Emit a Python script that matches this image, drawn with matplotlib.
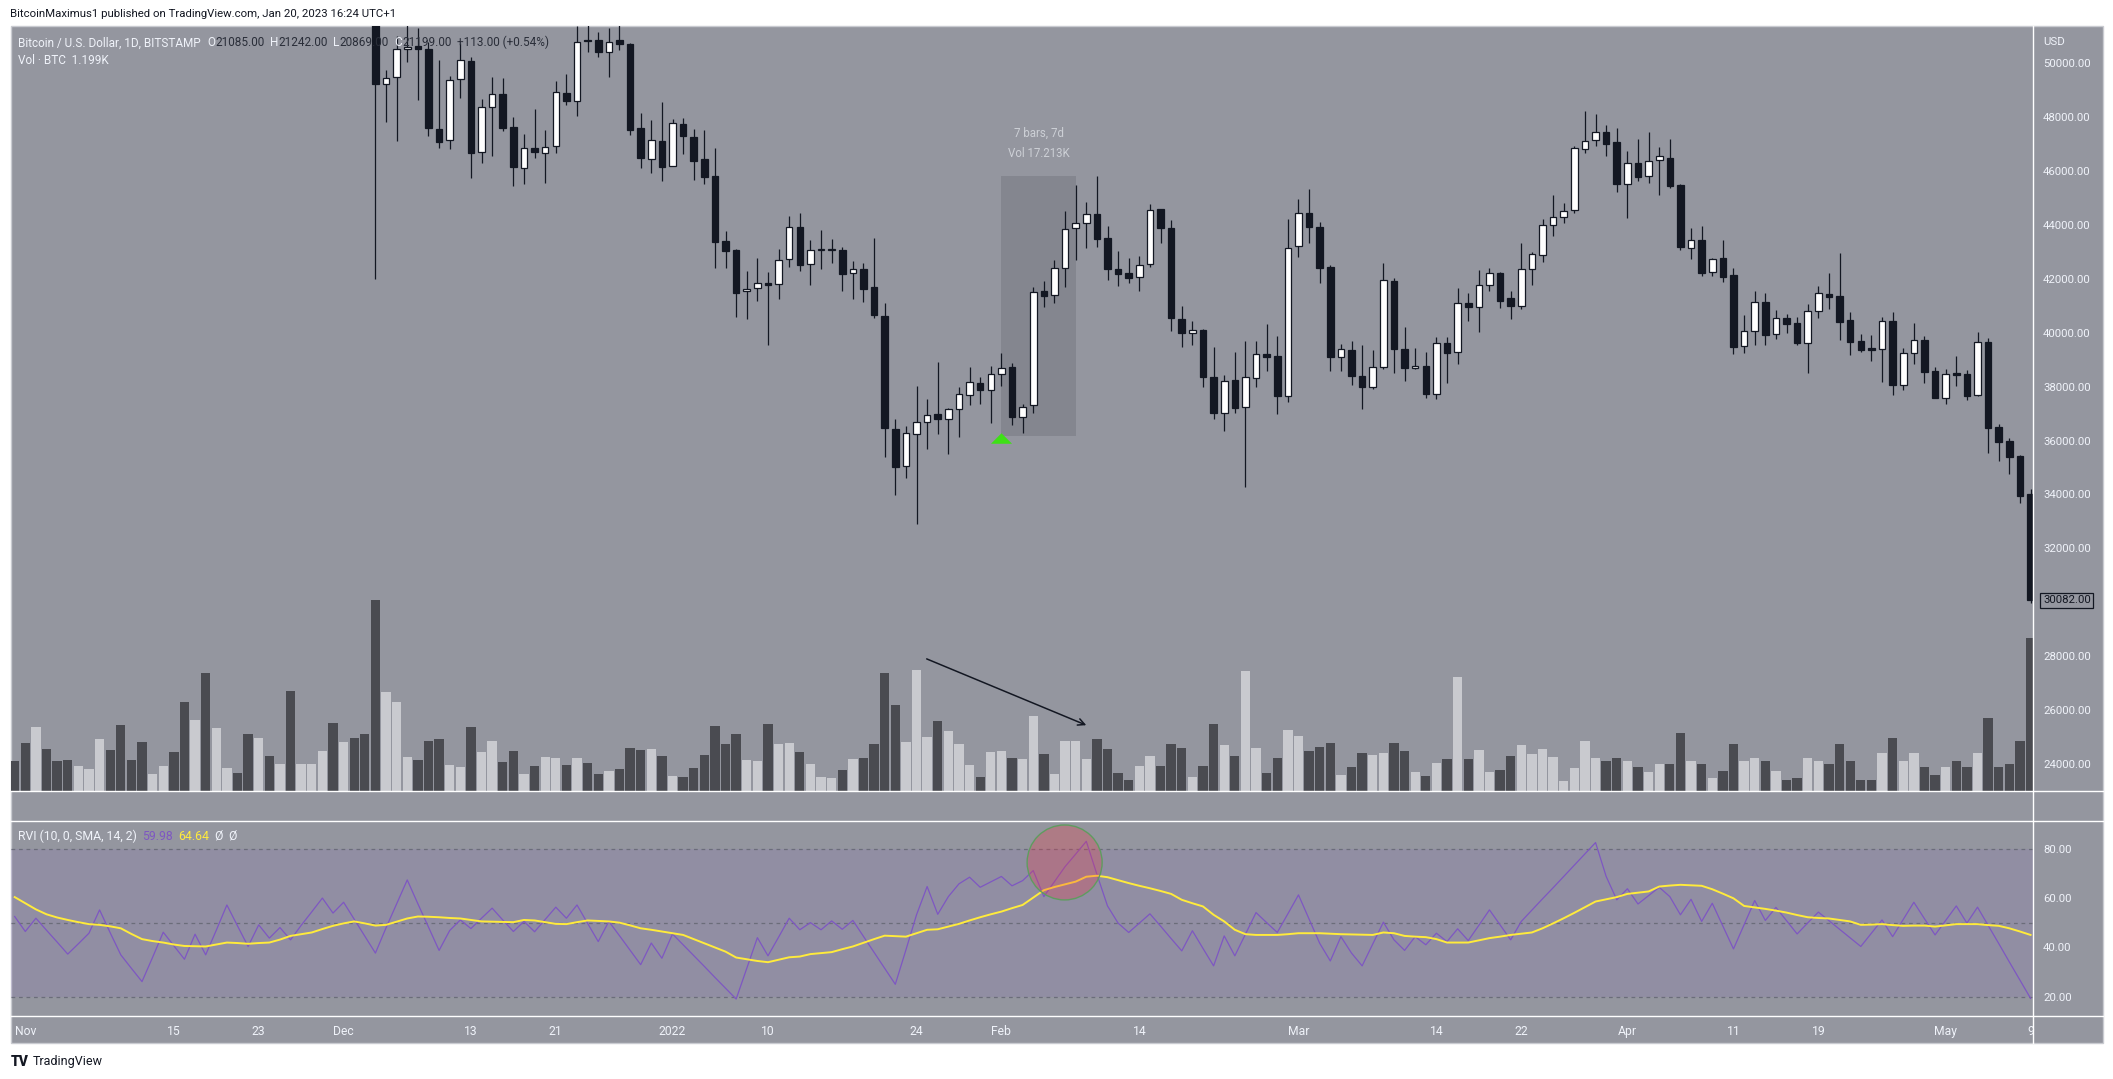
"""BTC/USD daily candles with volume overlay and RVI pane (TradingView style)."""
import numpy as np
import pandas as pd
import matplotlib
matplotlib.use('Agg')
import matplotlib.pyplot as plt
import matplotlib.dates as mdates
from matplotlib.patches import Rectangle, Ellipse
from matplotlib.lines import Line2D

plt.rcParams['font.family'] = ['Roboto', 'DejaVu Sans']

# ── Data ─────────────────────────────────────────────────────────────────────
vol_start = '2021-10-31'
candle_start = '2021-12-04'
last_day = '2022-05-09'

c_open = [
    # Dec 4-31
    53600, 49220, 49480, 50520, 50640, 50520, 47560, 47140, 49400, 50070, 46700, 48370, 48850, 47620,
    46100, 46850, 46670, 46930, 48890, 48600, 50830, 50850, 50410, 50850, 50700, 47590, 46440, 47120,
    # Jan
    46200, 47750, 47270, 46450, 45820, 43410, 43070, 41540, 41650, 41850, 41800, 42730, 43930, 42540, 43060, 43065,
    43070, 42210, 42370, 41690, 40620, 36420, 35050, 36230, 36680, 36990, 36790, 37160, 37680, 38130, 37870,
    # Feb
    38460, 38720, 36890, 37320, 41560, 41400, 42390, 43880, 44060, 44400, 43520, 42360, 42210, 42060,
    42540, 44580, 43880, 40500, 39990, 40100, 38350, 37010, 38240, 37230, 38310, 39200, 39140, 37670,
    # Mar
    43220, 44430, 43910, 42430, 39110, 39350, 38380, 37980, 38720, 41910, 39390, 38680, 38760, 37720, 39630, 39280,
    41090, 40940, 41760, 42210, 41280, 41010, 42360, 42870, 43990, 44310, 44540, 46830, 47140, 47440, 47070,
    # Apr
    45510, 46290, 45810, 46400, 46470, 45470, 43130, 43430, 42240, 42780, 42150, 39500, 40050, 41130, 39940,
    40540, 40360, 39610, 40800, 41440, 41370, 40480, 39700, 39410, 39410, 40430, 38060, 39240, 39730, 38580,
    # May 1-9
    37590, 38500, 38460, 37690, 39650, 36490, 35990, 35430, 34020,
]
c_high = [
    53900, 49750, 51000, 51900, 51300, 50800, 50120, 49530, 50770, 50220, 48660, 49480, 49440, 48000,
    47360, 48290, 47530, 49340, 49600, 51370, 51800, 51150, 51300, 52000, 50760, 48140, 47900, 48580,
    47930, 47980, 47560, 47530, 46850, 43780, 43100, 42290, 42780, 42260, 43110, 44330, 44460, 43440, 43810, 43480,
    43180, 42660, 42590, 43520, 41110, 36800, 36540, 38030, 37540, 38920, 37200, 37980, 38740, 38370, 38770,
    39240, 38870, 37360, 41710, 41930, 42700, 44520, 45480, 44840, 45820, 43960, 43040, 42780, 42850,
    44770, 44580, 44190, 40990, 40440, 40130, 39470, 38420, 39290, 39700, 39700, 40330, 39880, 44220,
    44970, 45340, 44100, 42520, 39570, 39700, 39540, 39350, 42580, 42020, 40200, 39420, 39280, 39860, 39860, 41650,
    41460, 42330, 42390, 42270, 41560, 43320, 42990, 44220, 45100, 44800, 46930, 48230, 48120, 47710, 47590,
    46750, 47180, 47440, 46890, 47180, 45510, 43880, 43960, 42790, 43440, 42390, 40660, 41550, 41480, 40830,
    40700, 40600, 41070, 41740, 42210, 42950, 40760, 39940, 39920, 40570, 40760, 39450, 40350, 39890, 38740,
    38660, 39140, 38620, 40030, 39790, 36620, 36080, 35470, 34200,
]
c_low = [
    42000, 47830, 47130, 50060, 48640, 47320, 46870, 46810, 48700, 45760, 46310, 46570, 47490, 45460,
    45510, 46470, 45570, 46680, 48450, 48050, 50430, 50220, 49480, 50490, 47340, 46100, 45940, 45650,
    46200, 46630, 45670, 45520, 42420, 42420, 40600, 40510, 41190, 39560, 41250, 42450, 42310, 41770, 42380, 42600,
    41560, 41250, 41160, 40560, 35400, 33990, 34620, 32920, 35700, 36260, 35520, 36150, 37330, 37370, 36640,
    38040, 36580, 36270, 37040, 40970, 41120, 41690, 42700, 43160, 43200, 41960, 41750, 41860, 41560,
    42450, 43320, 40080, 39460, 39550, 37980, 36810, 36370, 37040, 34290, 38000, 38590, 37000, 37440,
    42830, 43340, 41840, 38590, 38590, 38060, 37160, 37900, 38670, 38520, 38220, 38640, 37590, 37560, 38150, 38840,
    40450, 40040, 41560, 40930, 40520, 40900, 41770, 42630, 43600, 44090, 44460, 46680, 46940, 46570, 45240,
    44250, 45650, 45570, 45130, 45360, 43070, 42740, 42110, 42120, 41890, 39210, 39260, 39550, 39550, 39770,
    40000, 39550, 38520, 40560, 40900, 39730, 39180, 39290, 38970, 38190, 37690, 37880, 38840, 38150, 37590,
    37360, 38040, 37510, 37650, 35550, 35260, 34760, 33700, 29990,
]
c_close = [
    49220, 49440, 50520, 50590, 50520, 47590, 47090, 49370, 50110, 46680, 48370, 48850, 47610, 46170,
    46850, 46700, 46880, 48920, 48590, 50800, 50810, 50410, 50780, 50720, 47530, 46470, 47140, 46160,
    47770, 47320, 46370, 45790, 43380, 43050, 41490, 41640, 41850, 41790, 42690, 43910, 42530, 43060, 43070, 43075,
    42190, 42360, 41640, 40660, 36460, 35030, 36270, 36680, 36940, 36790, 37160, 37720, 38160, 37890, 38460,
    38680, 36890, 37260, 41530, 41380, 42390, 43840, 44060, 44400, 43490, 42380, 42190, 42050, 42500,
    44540, 43880, 40540, 39980, 40100, 38350, 37040, 38220, 37220, 38350, 39200, 39110, 37670, 43130,
    44430, 43910, 42420, 39110, 39390, 38410, 37980, 38720, 41950, 39410, 38680, 38780, 37740, 39630, 39260, 41090,
    40940, 41760, 42210, 41190, 41010, 42360, 42910, 43990, 44280, 44510, 46850, 47130, 47440, 47020, 45510,
    46290, 45790, 46360, 46570, 45460, 43170, 43430, 42230, 42730, 42080, 39490, 40050, 41130, 39920, 40540,
    40340, 39630, 40800, 41460, 41340, 40410, 39670, 39360, 39380, 40430, 38060, 39240, 39720, 38560, 37590,
    38460, 38450, 37650, 39650, 36480, 35960, 35400, 33960, 30082,
]

# volume bar heights (read in chart units, 30 units = 1K BTC), Oct 31 - May 9
volume = [
    90,
    144, 192, 126, 90, 93, 75, 66, 156, 123, 198, 93, 147, 51, 75, 117, 267, 213, 354, 189, 69, 54, 171, 159,
    105, 81, 300, 81, 81, 120, 204,
    147, 159, 171, 573, 297, 267, 102, 93, 150, 156, 78, 72, 192, 117, 150, 87, 120, 51, 75, 102, 99, 78, 99,
    84, 51, 60, 66, 129, 123, 126, 105,
    45, 42, 69, 108, 195, 141, 171, 93, 90, 201, 141, 144, 117, 81, 42, 39, 63, 96, 99, 141, 354, 258, 147,
    363, 162, 210, 180, 141, 78, 42, 117,
    120, 99, 96, 225, 111, 51, 150, 150, 96, 156, 126, 54, 33, 75, 105, 75, 141, 129, 42, 75, 201, 138, 105,
    360, 129, 54, 99, 183,
    165, 120, 132, 144, 48, 72, 114, 108, 114, 144, 120, 57, 45, 84, 96, 342, 96, 123, 57, 63, 105, 138, 111,
    126, 102, 30, 70, 150, 100, 90, 100,
    90, 72, 57, 80, 80, 174, 90, 80, 40, 60, 140, 90, 100, 90, 60, 32, 40, 100, 90, 80, 140, 90, 32, 32, 113,
    160, 90, 113, 72, 48,
    72, 90, 72, 113, 220, 72, 80, 150, 460,
]
# bar direction before the first visible candle (Oct 31 - Dec 3): D = down, L = up
vol_dir_early = "DDLDDDLLLDDDDLLDDLDLLDDLDLDLLLDLDD"

rvi = [
    52.6,
    46.5, 51.9, 47.0, 42.2, 37.3, 41.5, 45.8, 55.3, 46.0, 37.0, 31.5, 26.1, 36.0, 46.2, 40.7,
    35.2, 45.4, 37.0, 47.0, 57.3, 48.8, 40.4, 49.2, 43.8, 48.1, 43.1, 49.0, 54.5, 60.1, 54.0,
    58.4, 51.5, 44.6, 37.7, 48.0, 57.8, 67.5, 57.8, 48.3, 38.8, 46.9, 51.2, 47.7, 51.9, 56.0,
    51.2, 46.5, 50.6, 46.4, 51.4, 56.4, 51.9, 57.3, 49.8, 42.4, 50.6, 44.8, 38.9, 33.0, 41.8, 35.6,
    45.5, 41.1, 36.7, 32.3, 27.8, 23.4, 19.0, 31.5, 44.0, 36.6, 44.2, 51.9, 47.2, 50.1, 47.2,
    50.8, 47.4, 51.0, 44.5, 38.0, 31.5, 25.0, 39.0, 53.3, 64.8, 53.5, 60.7, 65.9, 68.6, 64.5, 66.7,
    68.9, 65.1, 67.2, 71.3, 60.7, 66.8, 72.9, 78.0, 83.2, 69.8, 56.9, 49.9, 46.1, 49.9,
    53.7, 48.7, 43.6, 38.6, 46.8, 39.6, 32.5, 44.7, 36.6, 45.4, 54.2, 50.1, 46.1, 53.7,
    61.4, 51.5, 41.7, 34.5, 44.4, 37.7, 32.5, 41.4, 50.3, 43.1, 38.8, 44.4, 41.1, 45.8, 42.4,
    47.6, 42.8, 49.0, 55.3, 49.2, 43.1, 50.6, 55.2, 59.8, 64.3, 68.9, 73.5, 78.1, 82.7, 68.9, 59.4,
    63.9, 57.7, 61.1, 64.5, 60.7, 53.3, 59.6, 50.6, 58.0, 48.7, 39.4, 49.2, 59.1, 51.0, 56.3,
    50.9, 45.5, 50.0, 54.4, 50.9, 47.4, 43.9, 40.4, 45.8, 51.2, 44.4, 51.4, 58.4, 51.7, 45.1,
    51.0, 56.9, 49.9, 56.4, 49.0, 41.6, 34.1, 26.7, 19.3,
]
rvi_sma = [
    60.5,
    58.0, 55.5, 53.5, 52.2, 51.2, 50.3, 49.5, 49.2, 48.6, 47.8, 45.5, 43.4, 42.6, 42.0, 41.2,
    40.6, 40.5, 40.4, 41.2, 42.0, 41.8, 41.5, 41.8, 42.0, 43.2, 44.7, 45.4, 46.1, 47.5, 48.8,
    49.8, 50.6, 49.8, 48.9, 49.2, 50.5, 51.8, 52.6, 52.5, 52.3, 52.0, 51.8, 51.2, 50.6, 50.5,
    50.4, 50.3, 51.2, 51.0, 50.3, 49.6, 49.5, 50.3, 51.0, 50.8, 50.6, 50.1, 49.0, 47.8, 47.2, 46.5,
    45.8, 45.1, 43.4, 41.7, 40.0, 38.3, 35.9, 35.2, 34.5, 34.0, 35.0, 36.0, 36.3, 37.3, 37.7,
    38.1, 39.3, 40.4, 41.9, 43.4, 44.8, 44.6, 44.4, 45.8, 47.2, 47.4, 48.5, 49.6, 51.0, 52.3, 53.5,
    54.6, 56.0, 57.3, 60.3, 63.3, 64.6, 65.7, 66.8, 68.8, 69.2, 68.6, 67.4, 66.2, 65.1,
    64.1, 63.0, 61.8, 59.4, 58.0, 56.7, 53.3, 50.6, 47.2, 45.4, 45.1, 45.1, 45.1, 45.4,
    45.8, 45.8, 45.8, 45.6, 45.4, 45.3, 45.2, 45.1, 46.1, 45.8, 44.7, 44.4, 44.2, 43.4, 42.0,
    42.0, 42.0, 42.9, 43.8, 44.4, 45.1, 45.6, 46.1, 47.8, 49.8, 51.9, 54.1, 56.4, 58.7, 59.6, 60.5,
    61.8, 62.3, 62.8, 64.8, 65.2, 65.5, 65.3, 65.1, 63.7, 61.9, 60.0, 56.9, 56.3, 55.7, 55.0,
    54.2, 53.2, 52.3, 52.0, 51.8, 51.2, 50.6, 49.2, 49.3, 49.5, 49.1, 48.8, 48.9, 48.9, 48.5,
    49.0, 49.5, 49.5, 49.5, 49.1, 48.8, 47.8, 46.5, 45.1,
]

price_ticks = [24000, 26000, 28000, 32000, 34000, 36000, 38000, 40000, 42000, 44000, 46000, 48000, 50000]
last_price = 30082
rvi_ticks = [20, 40, 60, 80]
rvi_levels = [20, 50, 80]
date_ticks = ['2021-11-01', '2021-11-15', '2021-11-23', '2021-12-01', '2021-12-13', '2021-12-21',
              '2022-01-01', '2022-01-10', '2022-01-24', '2022-02-01', '2022-02-14', '2022-03-01',
              '2022-03-14', '2022-03-22', '2022-04-01', '2022-04-11', '2022-04-19', '2022-05-01', '2022-05-09']
date_labels = ['Nov', '15', '23', 'Dec', '13', '21', '2022', '10', '24', 'Feb', '14', 'Mar',
               '14', '22', 'Apr', '11', '19', 'May', '9']

# drawings on the chart
range_start, range_end = '2022-02-01', '2022-02-08'
range_low, range_high = 36170, 45820
signal_date, signal_price = '2022-02-01', 36080
arrow_from = ('2022-01-24 23:00', 27900)
arrow_to = ('2022-02-09', 25440)
circle_center = ('2022-02-06 23:00', 74.6)

# ── Checks ───────────────────────────────────────────────────────────────────
vdates = pd.date_range(vol_start, last_day)
cdates = pd.date_range(candle_start, last_day)
assert len(c_open) == len(c_high) == len(c_low) == len(c_close) == len(cdates)
assert len(volume) == len(rvi) == len(rvi_sma) == len(vdates)
assert len(vol_dir_early) == len(vdates) - len(cdates)

xv = mdates.date2num(vdates)
xc = mdates.date2num(cdates)
o, h, l, c = map(np.array, (c_open, c_high, c_low, c_close))
up = c >= o
vol_dir = list(vol_dir_early) + ['L' if u else 'D' for u in up]
vol_k = np.array(volume) / 30.0

# ── Layout (pixel helpers) ───────────────────────────────────────────────────
W, H = 2113, 1079
def fx(px): return px / W
def fy(py): return 1 - py / H

BG = '#94969f'
DARK = '#131722'
LIGHT_TXT = '#f0f3fa'
L_PX, R_PX, FRAME_R = 10.5, 2033, 2103
TOP, VOL_BASE, RVI_TOP, RVI_BOT, FRAME_B = 25.6, 791, 820.7, 1016, 1043

fig = plt.figure(figsize=(W / 100, H / 100), dpi=100)
fig.patch.set_facecolor('white')
fig.add_artist(Rectangle((fx(L_PX), fy(FRAME_B)), fx(FRAME_R) - fx(L_PX), fy(TOP) - fy(FRAME_B),
                         transform=fig.transFigure, facecolor=BG, edgecolor='#c9cbd1', lw=1, zorder=-5))

x0 = mdates.date2num(pd.Timestamp('2021-11-01'))
xlim = (x0 - 1.395, x0 + 189.23)
rect_price = [fx(L_PX), fy(VOL_BASE), fx(R_PX) - fx(L_PX), fy(TOP) - fy(VOL_BASE)]

axv = fig.add_axes(rect_price)
ax = fig.add_axes(rect_price)
ar = fig.add_axes([fx(L_PX), fy(RVI_BOT), fx(R_PX) - fx(L_PX), fy(RVI_TOP) - fy(RVI_BOT)])
for a in (axv, ax, ar):
    a.set_facecolor('none')
    a.set_xlim(*xlim)
    for s in a.spines.values():
        s.set_visible(False)

# ── Volume overlay ───────────────────────────────────────────────────────────
axv.bar(xv, vol_k, width=0.88, color=['#c9cacf' if d == 'L' else '#4a4b51' for d in vol_dir], lw=0)
axv.set_ylim(0, (VOL_BASE - TOP) / 10.0)
axv.set_xticks([]); axv.set_yticks([])

# ── Candles ──────────────────────────────────────────────────────────────────
ax.set_ylim(22998, 51399)
d0 = mdates.date2num(pd.Timestamp(range_start))
d1 = mdates.date2num(pd.Timestamp(range_end))
ax.add_patch(Rectangle((d0, range_low), d1 - d0, range_high - range_low,
                       facecolor='#84868f', edgecolor='none', zorder=1))
ax.vlines(xc, l, h, color=DARK, lw=0.9, zorder=2)
body_lo = np.minimum(o, c)
body_h = np.maximum(np.abs(c - o), 45)
ax.bar(xc, body_h, bottom=body_lo, width=0.62, color=np.where(up, 'white', DARK),
       edgecolor=DARK, lw=0.9, zorder=3)

ax.annotate('7 bars, 7d', xy=((d0 + d1) / 2, range_high), xytext=(0, 31), textcoords='offset points',
            ha='center', va='center', fontsize=8.3, color='#cdd0d6')
ax.annotate('Vol 17.213K', xy=((d0 + d1) / 2, range_high), xytext=(0, 16.5), textcoords='offset points',
            ha='center', va='center', fontsize=8.3, color='#cdd0d6')
ax.scatter([mdates.date2num(pd.Timestamp(signal_date))], [signal_price],
           marker=[(-1, -0.5), (1, -0.5), (0, 0.5)], s=230, color='#3ee016', lw=0, zorder=4)
ax.annotate('', xy=(mdates.date2num(pd.Timestamp(arrow_to[0])), arrow_to[1]),
            xytext=(mdates.date2num(pd.Timestamp(arrow_from[0])), arrow_from[1]),
            arrowprops=dict(arrowstyle='->', color=DARK, lw=1.1, mutation_scale=12, shrinkA=0, shrinkB=0),
            zorder=5)

ax.yaxis.tick_right()
ax.set_xticks([])
ax.set_yticks(price_ticks)
ax.set_yticklabels([f'{p:.2f}' for p in price_ticks])
ax.tick_params(axis='y', length=0, pad=7.3, labelsize=8.2, labelcolor=LIGHT_TXT)
ax.text(1 + 10 / (R_PX - L_PX), last_price, f'{last_price:.2f}', transform=ax.get_yaxis_transform(),
        ha='left', va='center', fontsize=8.2, color=DARK, clip_on=False,
        bbox=dict(boxstyle='square,pad=0.22', fc=BG, ec=DARK, lw=0.9))

# ── RVI pane ─────────────────────────────────────────────────────────────────
ar.set_ylim(12.1, 91.6)
ar.axhspan(min(rvi_levels), max(rvi_levels), color='#7e57c2', alpha=0.12, lw=0)
for lev in rvi_levels:
    ar.axhline(lev, color='#6b6d7a', lw=0.9, ls=(0, (3, 3)))
ar.plot(xv, rvi, color='#7e57c2', lw=0.9)
ar.plot(xv, rvi_sma, color='#ffeb3b', lw=1.4)
cx = mdates.date2num(pd.Timestamp(circle_center[0]))
ar.add_patch(Ellipse((cx, circle_center[1]), 7.07, 30.5, facecolor=(0.95, 0.21, 0.27, 0.28),
                     edgecolor='#5f9c5f', lw=1, zorder=5))
ar.yaxis.tick_right()
ar.set_yticks(rvi_ticks)
ar.set_yticklabels([f'{v:.2f}' for v in rvi_ticks])
ar.tick_params(axis='y', length=0, pad=7.3, labelsize=8.2, labelcolor=LIGHT_TXT)
ar.set_xticks(mdates.date2num(pd.to_datetime(date_ticks)))
ar.set_xticklabels(date_labels)
ar.tick_params(axis='x', length=0, pad=6.5, labelsize=8.7, labelcolor=LIGHT_TXT)

# ── Separators ───────────────────────────────────────────────────────────────
for yy in (VOL_BASE, RVI_TOP, RVI_BOT):
    fig.add_artist(Line2D([fx(L_PX), fx(FRAME_R)], [fy(yy), fy(yy)], color='white', lw=1))
fig.add_artist(Line2D([fx(R_PX), fx(R_PX)], [fy(TOP), fy(FRAME_B)], color='white', lw=1))

# ── Texts ────────────────────────────────────────────────────────────────────
def chain(x, y, pieces, size=8):
    prev = fig.text(fx(x), fy(y), pieces[0][0], color=pieces[0][1], fontsize=size, ha='left', va='bottom')
    for txt, col, gap in pieces[1:]:
        prev = ax.annotate(txt, xy=(1, 0), xycoords=prev, xytext=(gap, 0), textcoords='offset points',
                           color=col, fontsize=size, ha='left', va='bottom', annotation_clip=False)

NUM = '#2a2e39'
fig.text(fx(10), fy(14), 'BitcoinMaximus1 published on TradingView.com, Jan 20, 2023 16:24 UTC+1',
         fontsize=8.2, color=DARK, ha='left', va='center')
chain(17.5, 49.5, [('Bitcoin / U.S. Dollar, 1D, BITSTAMP', LIGHT_TXT, 0), ('O', LIGHT_TXT, 5),
                   ('21085.00', NUM, 0), ('H', LIGHT_TXT, 4), ('21242.00', NUM, 0), ('L', LIGHT_TXT, 4),
                   ('20869.00', NUM, 0), ('C', LIGHT_TXT, 4), ('21199.00', NUM, 0),
                   ('+113.00 (+0.54%)', NUM, 4)], size=8.5)
fig.text(fx(17.5), fy(60), 'Vol · BTC  1.199K', fontsize=8.5, color=LIGHT_TXT, ha='left', va='center')
chain(17.5, 843, [('RVI (10, 0, SMA, 14, 2)', LIGHT_TXT, 0), ('59.98', '#7e57c2', 4),
                  ('64.64', '#ffeb3b', 4), ('Ø', LIGHT_TXT, 4), ('Ø', LIGHT_TXT, 4)], size=8.8)
fig.text(fx(2043), fy(42), 'USD', fontsize=8.2, color=LIGHT_TXT, ha='left', va='center')
fig.text(fx(11), fy(1062), 'TV', fontsize=10, color=DARK, ha='left', va='center', fontweight='black')
fig.text(fx(33), fy(1062), 'TradingView', fontsize=9, color=DARK, ha='left', va='center')

fig.savefig('out.png', dpi=100, facecolor='white')
